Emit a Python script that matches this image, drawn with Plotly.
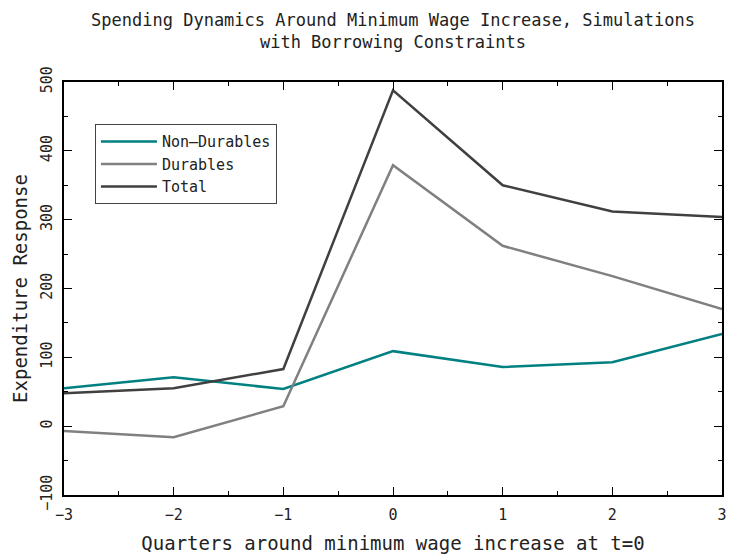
import plotly.graph_objects as go

quarters = [-3, -2, -1, 0, 1, 2, 3]
non_durables = [55, 71, 54, 109, 86, 93, 134]
durables = [-7, -16, 29, 379, 262, 218, 170]
total = [48, 55, 83, 488, 350, 312, 304]

series = [
    ("Non\u2013Durables", non_durables, "#008080"),
    ("Durables", durables, "#808080"),
    ("Total", total, "#404040"),
]

fig = go.Figure()
for name, vals, col in series:
    fig.add_trace(go.Scatter(x=quarters, y=vals, mode="lines", name=name,
                             line=dict(color=col, width=2.5)))

font = "DejaVu Sans Mono"
fig.update_layout(
    width=730, height=558,
    margin=dict(l=64, r=3, t=82, b=63),
    plot_bgcolor="white", paper_bgcolor="white",
    font=dict(family=font, size=14, color="#222"),
    title=dict(text="Spending Dynamics Around Minimum Wage Increase, Simulations<br>with Borrowing Constraints",
               xref="paper", x=0.5, xanchor="center",
               yref="container", y=0.953, yanchor="middle",
               font=dict(size=17, family=font)),
    showlegend=True,
    legend=dict(x=0.047, y=0.898, xanchor="left", yanchor="top",
                bordercolor="#444", borderwidth=1, bgcolor="white",
                font=dict(size=15), tracegroupgap=0, itemwidth=56),
    xaxis=dict(range=[-3, 3], dtick=1, tick0=-3, ticks="inside", ticklen=8,
               tickcolor="black", showgrid=False, zeroline=False,
               showline=True, linecolor="black", linewidth=2, mirror="ticks",
               minor=dict(dtick=0.5, ticks="inside", ticklen=4, tickcolor="black"),
               tickfont=dict(size=15), ticklabelstandoff=5,
               title=dict(text="Quarters around minimum wage increase at t=0",
                          font=dict(size=19), standoff=14)),
    yaxis=dict(range=[-100, 500], dtick=100, ticks="inside", ticklen=8,
               tickcolor="black", showgrid=False, zeroline=False,
               showline=True, linecolor="black", linewidth=2, mirror="ticks",
               minor=dict(dtick=50, ticks="inside", ticklen=4, tickcolor="black"),
               tickangle=-90, tickfont=dict(size=15), ticklabelstandoff=4,
               title=dict(text="Expenditure Response", font=dict(size=19), standoff=5)),
)

fig.write_html("out.html")
